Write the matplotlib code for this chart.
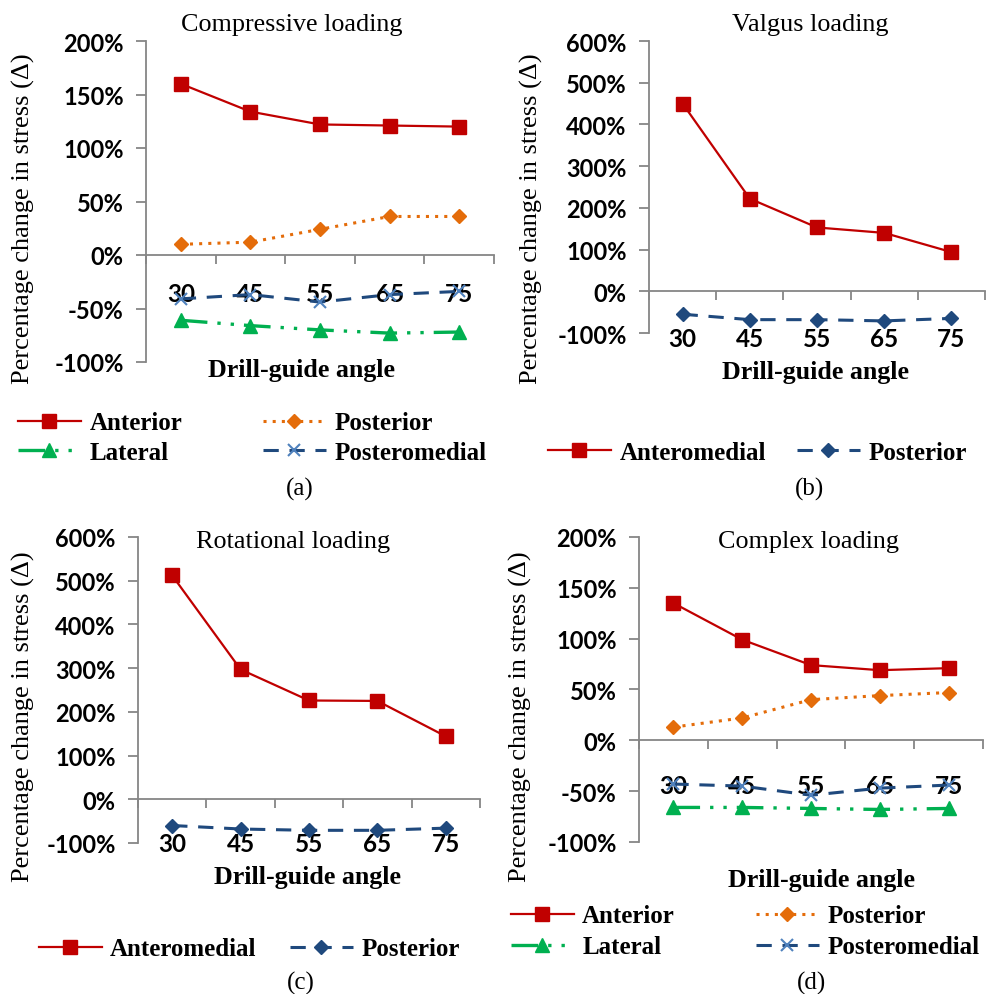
import matplotlib
matplotlib.use("Agg")
import matplotlib.pyplot as plt
from matplotlib.lines import Line2D

W, H = 986, 995
angles = ["30", "45", "55", "65", "75"]

a_anterior = [160, 134, 122, 121, 120]
a_posterior = [10, 12, 24, 36, 36]
a_lateral = [-61, -66, -70, -73, -72]
a_posteromedial = [-41, -37, -44, -37, -34]

b_anteromedial = [450, 222, 153, 140, 94]
b_posterior = [-55, -68, -68, -71, -65]

c_anteromedial = [512, 297, 226, 225, 144]
c_posterior = [-60, -68, -71, -71, -66]

d_anterior = [135, 99, 74, 69, 71]
d_posterior = [13, 22, 40, 44, 47]
d_lateral = [-66, -66, -67, -68, -67]
d_posteromedial = [-43, -45, -54, -47, -44]

RED = "#C00000"
ORANGE = "#E46C0A"
GREEN = "#00B050"
NAVY = "#1F497D"
XBLUE = "#4F81BD"
GRID = "#868686"
SERIF = "Liberation Serif"
SANS = "Lato"

STYLES = {
    "anterior": dict(color=RED, ls="-", lw=1.6, marker="s", ms=10.5,
                     mfc=RED, mec=RED),
    "posterior_o": dict(color=ORANGE, ls=(0, (1, 2)), lw=2.2, marker="D", ms=7,
                        mfc=ORANGE, mec=ORANGE),
    "lateral": dict(color=GREEN, ls=(0, (8, 3, 1, 3, 1, 3)), lw=2.4,
                    marker="^", ms=10, mfc=GREEN, mec=GREEN),
    "posteromedial": dict(color=NAVY, ls=(0, (5, 3.5)), lw=2.2, marker="x",
                          ms=9, mfc=XBLUE, mec=XBLUE, mew=1.5),
    "posterior_n": dict(color=NAVY, ls=(0, (5, 3.5)), lw=2.2, marker="D", ms=7,
                        mfc=NAVY, mec=NAVY),
}


def fx(x):
    return x / W


def fy(y):
    return 1 - y / H


def make_axes(fig, left, right, top, bottom, ymin, ymax, ystep, pad):
    ax = fig.add_axes([fx(left), fy(bottom), fx(right - left), (bottom - top) / H])
    ax.set_xlim(0.5, 5.5)
    ax.set_ylim(ymin, ymax)
    for s in ("top", "right"):
        ax.spines[s].set_visible(False)
    ax.spines["bottom"].set_position(("data", 0))
    for s in ("left", "bottom"):
        ax.spines[s].set_color(GRID)
        ax.spines[s].set_linewidth(1.3)
    ax.set_xticks([1, 2, 3, 4, 5])
    ax.set_xticklabels(angles, fontfamily=SANS, fontweight="bold", fontsize=17.5)
    ax.tick_params(axis="x", which="major", length=0, pad=pad)
    ax.set_xticks([0.5, 1.5, 2.5, 3.5, 4.5, 5.5], minor=True)
    ax.tick_params(axis="x", which="minor", length=6.5, width=1.3,
                   color=GRID, direction="out")
    yt = list(range(ymin, ymax + 1, ystep))
    ax.set_yticks(yt)
    ax.set_yticklabels([f"{v}%" for v in yt], fontfamily=SANS,
                       fontweight="bold", fontsize=17)
    ax.tick_params(axis="y", length=7, width=1.3, color=GRID, pad=9)
    ax.patch.set_alpha(0)
    return ax


def plot_series(ax, vals, key):
    ax.plot([1, 2, 3, 4, 5], vals, clip_on=False, zorder=3, **STYLES[key])


def legend_entry(fig, x, y, key, label):
    h = Line2D([], [], **STYLES[key])
    fig.legend(handles=[h], labels=[label], loc="center left",
               bbox_to_anchor=(fx(x), fy(y)), frameon=False, borderpad=0,
               borderaxespad=0, handlelength=2.5, handletextpad=0.35,
               numpoints=1, prop=dict(family=SERIF, weight="bold", size=18))


def texts(fig, title, tpos, xl, xlpos, yl, ylpos, cap, cpos):
    fig.text(fx(tpos[0]), fy(tpos[1]), title, family=SERIF, size=18.8,
             ha="center", va="center")
    fig.text(fx(xlpos[0]), fy(xlpos[1]), xl, family=SERIF, weight="bold",
             size=18.7, ha="center", va="center")
    fig.text(fx(ylpos[0]), fy(ylpos[1]), yl, family=SERIF, size=19,
             ha="center", va="center", rotation=90)
    fig.text(fx(cpos[0]), fy(cpos[1]), cap, family=SERIF, size=18,
             ha="center", va="center")


fig = plt.figure(figsize=(W / 100, H / 100), dpi=100)
YL = "Percentage change in stress (\u0394)"
XL = "Drill-guide angle"

# (a) compressive
ax = make_axes(fig, 146, 494, 42, 363, -100, 200, 50, 19.5)
plot_series(ax, a_anterior, "anterior")
plot_series(ax, a_posterior, "posterior_o")
plot_series(ax, a_lateral, "lateral")
plot_series(ax, a_posteromedial, "posteromedial")
texts(fig, "Compressive loading", (292, 25), XL, (302, 370), YL, (23, 219),
      "(a)", (300, 489))
legend_entry(fig, 18, 424, "anterior", "Anterior")
legend_entry(fig, 263, 424, "posterior_o", "Posterior")
legend_entry(fig, 18, 453, "lateral", "Lateral")
legend_entry(fig, 263, 453, "posteromedial", "Posteromedial")

# (b) valgus
ax = make_axes(fig, 649, 985, 42, 334, -100, 600, 100, 25.5)
plot_series(ax, b_anteromedial, "anterior")
plot_series(ax, b_posterior, "posterior_n")
texts(fig, "Valgus loading", (810, 25), XL, (816, 372), YL, (531, 219),
      "(b)", (809, 489))
legend_entry(fig, 548, 453, "anterior", "Anteromedial")
legend_entry(fig, 797, 453, "posterior_n", "Posterior")

# (c) rotational
ax = make_axes(fig, 138, 480, 538, 844, -100, 600, 100, 23.5)
plot_series(ax, c_anteromedial, "anterior")
plot_series(ax, c_posterior, "posterior_n")
texts(fig, "Rotational loading", (293, 542), XL, (307, 878), YL, (23, 717),
      "(c)", (301, 983))
legend_entry(fig, 39, 950, "anterior", "Anteromedial")
legend_entry(fig, 290, 950, "posterior_n", "Posterior")

# (d) complex
ax = make_axes(fig, 639, 983, 538, 843, -100, 200, 50, 24)
plot_series(ax, d_anterior, "anterior")
plot_series(ax, d_posterior, "posterior_o")
plot_series(ax, d_lateral, "lateral")
plot_series(ax, d_posteromedial, "posteromedial")
texts(fig, "Complex loading", (809, 542), XL, (821, 880), YL, (520, 717),
      "(d)", (811, 983))
legend_entry(fig, 511, 917, "anterior", "Anterior")
legend_entry(fig, 756, 917, "posterior_o", "Posterior")
legend_entry(fig, 511, 948, "lateral", "Lateral")
legend_entry(fig, 756, 948, "posteromedial", "Posteromedial")

fig.savefig("out.png", dpi=100)
